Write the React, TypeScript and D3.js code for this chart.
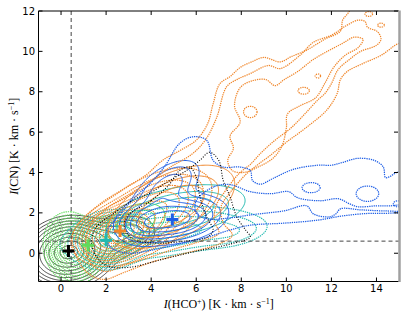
import React, { useMemo } from "react";
import * as d3 from "d3";

const W = 407, H = 317;
const M = { left: 38.5, right: 399, top: 11, bottom: 281.5 };
const xDomain: [number, number] = [-1, 15];
const yDomain: [number, number] = [-1.4, 12];
const xTicks = [0, 2, 4, 6, 8, 10, 12, 14];
const yTicks = [0, 2, 4, 6, 8, 10, 12];
const xThreshold = 0.45;
const yThreshold = 0.6;

const BLACK = "#000000", GREEN = "#5fdc5a", TEAL = "#1fbab0", ORANGE = "#f0862a", BLUE = "#1f5fe6";

// core distributions: [cx, cy, sx, sy, angleDeg, weight]
const blackComps = [[0.33, 0.05, 0.72, 0.6, 15, 1], [2.0, 0.6, 1.0, 0.5, 18, 0.08], [3.3, 1.0, 0.45, 0.4, 20, 0.03]];
const blackLevels = [0.011, 0.022, 0.04, 0.07, 0.12, 0.2, 0.32, 0.48, 0.68, 0.88];
const greenComps = [[0.5, 0.25, 0.45, 0.65, 10, 1], [1.8, 0.6, 0.9, 0.5, 20, 0.25], [3.0, 0.95, 0.7, 0.45, 20, 0.05]];
const greenLevels = [0.02, 0.04, 0.07, 0.11, 0.17, 0.25, 0.35, 0.48, 0.63, 0.8];
const greenSolidComps = [[3.3, 1.5, 0.9, 0.55, 25, 1]];
const greenSolidLevels = [0.3, 0.6];
const tealComps = [[2.1, 0.65, 0.6, 0.5, 15, 1], [4.3, 1.0, 2.0, 0.55, 8, 0.15], [7.6, 1.0, 0.9, 0.38, 10, 0.04]];
const tealLevels = [0.015, 0.03, 0.06, 0.1, 0.17, 0.27, 0.42, 0.62, 0.85];
const tealSolidComps = [[5.3, 2.1, 1.5, 0.6, 12, 1], [3.5, 1.4, 0.8, 0.5, 20, 0.5]];
const tealSolidLevels = [0.15, 0.35, 0.6];
const orangeComps = [[2.6, 1.05, 0.75, 0.5, 25, 1], [4.0, 2.0, 1.3, 0.7, 35, 0.2]];
const orangeLevels = [0.012, 0.025, 0.045, 0.07, 0.11, 0.17, 0.25, 0.35, 0.48, 0.63, 0.8];
const orangeSolidComps = [[4.9, 2.3, 1.6, 0.8, 30, 1]];
const orangeSolidLevels = [0.15, 0.35, 0.6];
const blueComps = [[5.0, 1.7, 1.1, 0.55, 10, 1], [4.7, 3.3, 0.95, 0.5, 40, 0.4], [3.6, 1.4, 0.6, 0.5, 20, 0.3]];
const blueLevels = [0.08, 0.16, 0.28, 0.42, 0.6, 0.8];

// extended contours
const orangeOuter = [[0.5,0.9],[1.0,1.7],[1.8,2.5],[2.8,3.2],[3.8,3.9],[4.5,4.6],[5.3,5.1],[6.0,5.6],[6.5,6.4],[6.75,7.4],[7.05,8.4],[7.5,8.75],[7.95,9.2],[8.5,9.5],[9.0,9.7],[9.73,9.48],[10.2,9.73],[10.9,10.06],[11.7,10.6],[12.4,11.0],[12.5,11.55],[12.8,12.0],[13.0,12.8],[15.6,12.8],[15.6,10.5],[15.0,10.4],[14.2,9.8],[13.4,9.4],[12.7,9.0],[12.4,8.6],[12.25,7.9],[11.8,7.1],[10.85,6.2],[10.0,5.5],[9.3,4.86],[8.7,4.36],[8.2,3.9],[7.5,3.0],[7.1,2.3],[7.2,1.5],[7.6,0.9],[7.0,0.45],[5.5,0.0],[4.0,-0.45],[2.8,-0.95],[1.9,-1.3],[1.2,-1.0],[0.7,-0.2]];
const orangeMiddle = [[1.3,1.4],[2.0,2.2],[3.0,2.9],[4.0,3.6],[4.9,4.3],[5.8,4.9],[6.4,5.6],[6.9,6.7],[7.35,8.25],[7.8,8.6],[8.4,8.9],[9.2,9.3],[9.73,9.15],[10.6,9.8],[11.2,10.45],[12.0,10.8],[12.7,11.3],[13.2,11.55],[13.5,11.47],[13.6,11.2],[14.05,10.97],[14.2,10.6],[14.0,10.3],[13.3,10.0],[12.8,9.6],[12.3,9.1],[12.0,8.4],[11.7,7.9],[11.4,7.6],[10.77,6.84],[10.2,6.2],[9.5,5.6],[8.9,5.0],[8.4,4.4],[7.9,3.95],[7.3,3.1],[6.9,2.4],[6.8,1.6],[7.0,1.0],[6.2,0.6],[5.0,0.2],[3.8,-0.25],[2.8,-0.6],[2.0,-0.9],[1.4,-0.6],[1.1,0.2]];
const orangeInner = [[7.4,4.6],[7.65,5.2],[7.5,5.8],[7.95,6.5],[7.7,7.3],[7.95,8.2],[8.5,8.55],[9.1,8.6],[9.5,8.3],[9.9,8.6],[10.5,9.0],[11.2,9.6],[11.9,10.05],[12.5,10.4],[13.0,10.7],[13.4,10.6],[13.2,10.2],[12.6,9.8],[12.1,9.2],[11.7,8.4],[11.3,7.7],[10.6,7.3],[10.05,6.9],[10.0,6.2],[9.8,5.3],[9.4,4.7],[8.8,4.3],[8.1,4.0],[7.6,4.1]];
const blueOuter = [[2.0,1.0],[2.6,1.9],[3.3,2.8],[4.0,3.5],[4.6,4.3],[5.27,5.45],[5.86,5.77],[6.46,5.6],[6.75,4.6],[7.2,4.27],[7.95,4.27],[8.4,4.1],[8.5,3.6],[8.85,3.42],[9.4,3.7],[10.3,4.15],[11.4,4.36],[12.0,4.36],[12.5,4.5],[13.15,4.7],[13.9,4.6],[14.3,4.28],[14.4,3.75],[14.6,3.8],[14.9,4.0],[15.6,4.1],[15.6,1.95],[15.0,2.0],[14.3,1.97],[13.6,1.97],[12.5,1.85],[11.4,1.64],[9.9,1.49],[8.4,1.39],[7.5,1.15],[6.5,0.8],[5.2,0.45],[4.0,0.15],[3.0,0.0],[2.2,0.3]];
const blueMiddle = [[6.0,2.6],[6.8,3.3],[7.5,3.4],[8.4,3.05],[9.3,2.95],[10.1,3.05],[10.5,2.75],[11.5,2.6],[12.3,2.7],[12.8,2.45],[13.2,2.3],[14.0,2.35],[14.6,2.35],[15.6,2.4],[15.6,2.15],[14.3,2.1],[13.3,2.15],[12.4,2.2],[12.2,1.95],[11.9,1.8],[11.2,1.95],[10.9,2.35],[9.9,2.1],[8.4,1.9],[7.5,1.75],[6.5,1.7],[6.0,2.0]];
const blackDottedOuter = [[1.5,1.2],[2.5,2.1],[3.3,2.7],[3.93,2.97],[4.67,3.5],[5.57,4.1],[6.16,4.6],[6.6,5.0],[7.0,4.6],[7.2,3.6],[7.5,2.8],[7.8,1.8],[8.2,1.14],[8.4,0.8],[7.5,0.45],[6.0,0.1],[4.5,-0.3],[3.0,-0.7],[2.0,-0.6],[1.4,0.2]];
const blackDottedInner = [[3.0,1.9],[4.0,2.6],[4.8,3.4],[5.27,4.1],[5.7,4.27],[6.0,3.78],[6.16,2.8],[6.46,1.8],[6.75,1.14],[6.5,0.8],[5.5,0.6],[4.2,0.5],[3.2,0.7],[2.8,1.3]];
// small closed loops: [cx, cy, rx, ry]
const orangeLoops = [[8.4,7.0,0.3,0.28],[10.77,8.05,0.25,0.17],[11.4,8.78,0.12,0.1],[13.66,11.85,0.17,0.12],[14.2,11.3,0.15,0.1]];
const blueLoops = [[11.1,3.25,0.4,0.25],[13.6,2.95,0.5,0.38],[14.95,2.45,0.2,0.15]];

const crossX = [0.33, 1.2, 2.0, 2.62, 4.94];
const crossY = [0.11, 0.4, 0.64, 1.1, 1.67];
const crossColors = [BLACK, GREEN, TEAL, ORANGE, BLUE];

const GX0 = -2, GY0 = -2.5, STEP = 0.05;
const NX = Math.round((16.5 - GX0) / STEP) + 1;
const NY = Math.round((13.5 - GY0) / STEP) + 1;

function field(comps: number[][]) {
  const v = new Float64Array(NX * NY);
  const pre = comps.map(([cx, cy, sx, sy, a, w]) => {
    const r = (a * Math.PI) / 180;
    return { cx, cy, sx, sy, c: Math.cos(r), s: Math.sin(r), w };
  });
  for (let j = 0; j < NY; j++) {
    const y = GY0 + j * STEP;
    for (let i = 0; i < NX; i++) {
      const x = GX0 + i * STEP;
      let sum = 0;
      for (const p of pre) {
        const dx = x - p.cx, dy = y - p.cy;
        const u = (dx * p.c + dy * p.s) / p.sx;
        const w = (-dx * p.s + dy * p.c) / p.sy;
        sum += p.w * Math.exp(-0.5 * (u * u + w * w));
      }
      v[i + j * NX] = sum;
    }
  }
  return v;
}

const DOT = "1.3,0.9";
const BLACKDOT = "1,1.6";

const coreGroups = [
  { comps: blackComps, levels: blackLevels, color: BLACK, dash: null, width: 0.7 },
  { comps: greenComps, levels: greenLevels, color: GREEN, dash: DOT, width: 1.2 },
  { comps: greenSolidComps, levels: greenSolidLevels, color: GREEN, dash: null, width: 1 },
  { comps: tealComps, levels: tealLevels, color: TEAL, dash: DOT, width: 1.2 },
  { comps: tealSolidComps, levels: tealSolidLevels, color: TEAL, dash: null, width: 1 },
  { comps: orangeComps, levels: orangeLevels, color: ORANGE, dash: DOT, width: 1.2 },
  { comps: orangeSolidComps, levels: orangeSolidLevels, color: ORANGE, dash: null, width: 1 },
  { comps: blueComps, levels: blueLevels, color: BLUE, dash: null, width: 1 },
];

export default function App() {
  const xs = d3.scaleLinear().domain(xDomain).range([M.left, M.right]);
  const ys = d3.scaleLinear().domain(yDomain).range([M.bottom, M.top]);

  const corePaths = useMemo(() => {
    const proj = d3.geoTransform({
      point: function (x: number, y: number) {
        (this as any).stream.point(xs(GX0 + (x - 0.5) * STEP), ys(GY0 + (y - 0.5) * STEP));
      },
    });
    const gp = d3.geoPath(proj as any);
    return coreGroups.map((g) => {
      const vals = field(g.comps);
      const cs = d3.contours().size([NX, NY]).thresholds(g.levels)(Array.from(vals));
      return { ...g, paths: cs.map((c) => gp(c as any) || "") };
    });
  }, []);

  const line = d3
    .line<number[]>()
    .x((d) => xs(d[0]))
    .y((d) => ys(d[1]))
    .curve(d3.curveCatmullRomClosed.alpha(0.5));

  const traced = [
    { pts: orangeOuter, color: ORANGE, dash: DOT, width: 1.25 },
    { pts: orangeMiddle, color: ORANGE, dash: DOT, width: 1.25 },
    { pts: orangeInner, color: ORANGE, dash: DOT, width: 1.25 },
    { pts: blueOuter, color: BLUE, dash: DOT, width: 1.25 },
    { pts: blueMiddle, color: BLUE, dash: DOT, width: 1.25 },
    { pts: blackDottedOuter, color: BLACK, dash: BLACKDOT, width: 1.1 },
    { pts: blackDottedInner, color: BLACK, dash: BLACKDOT, width: 1.1 },
  ];
  const loops = [
    ...orangeLoops.map((l) => ({ l, color: ORANGE })),
    ...blueLoops.map((l) => ({ l, color: BLUE })),
  ];

  const tickFont = { fontFamily: "DejaVu Sans, sans-serif", fontSize: 10 };
  const labelFont = { fontFamily: "Liberation Serif, DejaVu Serif, serif", fontSize: 12 };

  return (
    <svg width={W} height={H} style={{ position: "fixed", left: 0, top: 0, background: "#fff" }}>
      <defs>
        <clipPath id="plot">
          <rect x={M.left} y={M.top} width={M.right - M.left} height={M.bottom - M.top} />
        </clipPath>
      </defs>
      <rect x={0} y={0} width={W} height={H} fill="#fff" />
      <g clipPath="url(#plot)">
        {corePaths.map((g, gi) =>
          g.paths.map((p, i) => (
            <path key={gi + "-" + i} d={p} fill="none" stroke={g.color} strokeWidth={g.width}
              strokeDasharray={g.dash || undefined} />
          ))
        )}
        {traced.map((t, i) => (
          <path key={"t" + i} d={line(t.pts) || ""} fill="none" stroke={t.color} strokeWidth={t.width}
            strokeDasharray={t.dash} />
        ))}
        {loops.map((o, i) => (
          <ellipse key={"l" + i} cx={xs(o.l[0])} cy={ys(o.l[1])} rx={xs(o.l[0] + o.l[2]) - xs(o.l[0])}
            ry={ys(o.l[1]) - ys(o.l[1] + o.l[3])} fill="none" stroke={o.color} strokeWidth={1.25}
            strokeDasharray={DOT} />
        ))}
        <line x1={xs(xThreshold)} x2={xs(xThreshold)} y1={M.top} y2={M.bottom} stroke="#444" strokeWidth={1}
          strokeDasharray="4,3" />
        <line x1={M.left} x2={M.right} y1={ys(yThreshold)} y2={ys(yThreshold)} stroke="#444" strokeWidth={1}
          strokeDasharray="4,3" />
        {crossX.map((cx, i) => (
          <path key={"c" + i}
            d={`M${xs(cx) - 6},${ys(crossY[i])}h12M${xs(cx)},${ys(crossY[i]) - 6}v12`}
            stroke={crossColors[i]} strokeWidth={3} fill="none" />
        ))}
      </g>
      {/* spines */}
      <line x1={M.left} x2={M.right} y1={M.top} y2={M.top} stroke="#000" strokeWidth={1} />
      <line x1={M.left} x2={M.right} y1={M.bottom} y2={M.bottom} stroke="#000" strokeWidth={1} />
      <line x1={M.left} x2={M.left} y1={M.top} y2={M.bottom} stroke="#000" strokeWidth={1} />
      <line x1={M.right + 0.5} x2={M.right + 0.5} y1={M.top - 0.5} y2={M.bottom + 0.5} stroke="#a0a0a0" strokeWidth={2.5} />
      {/* ticks */}
      {xTicks.map((t) => (
        <g key={"xt" + t}>
          <line x1={xs(t)} x2={xs(t)} y1={M.bottom} y2={M.bottom - 4} stroke="#000" />
          <line x1={xs(t)} x2={xs(t)} y1={M.top} y2={M.top + 4} stroke="#000" />
          <text x={xs(t)} y={M.bottom + 10.5} textAnchor="middle" {...tickFont}>{t}</text>
        </g>
      ))}
      {yTicks.map((t) => (
        <g key={"yt" + t}>
          <line x1={M.left} x2={M.left + 4} y1={ys(t)} y2={ys(t)} stroke="#000" />
          <line x1={M.right - 1} x2={M.right - 5} y1={ys(t)} y2={ys(t)} stroke="#000" />
          <text x={M.left - 3.5} y={ys(t) + 3.6} textAnchor="end" {...tickFont}>{t}</text>
        </g>
      ))}
      <text x={(M.left + M.right) / 2} y={308} textAnchor="middle" {...labelFont}>
        <tspan fontStyle="italic">I</tspan>(HCO<tspan baseline-shift="super" fontSize={8}>+</tspan>) [K · km · s<tspan baseline-shift="super" fontSize={8}>−1</tspan>]
      </text>
      <text transform={`translate(18,${(M.top + M.bottom) / 2}) rotate(-90)`} textAnchor="middle" {...labelFont}>
        <tspan fontStyle="italic">I</tspan>(CN) [K · km · s<tspan baseline-shift="super" fontSize={8}>−1</tspan>]
      </text>
    </svg>
  );
}
